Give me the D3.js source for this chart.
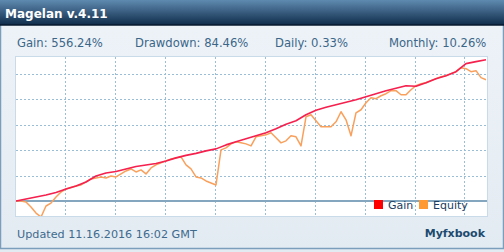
<!DOCTYPE html>
<html>
<head>
<meta charset="utf-8">
<script src="https://cdn.jsdelivr.net/npm/d3@7"></script>
<style>
  body { margin: 0; background: #ffffff; }
  svg { display: block; font-family: "DejaVu Sans", Verdana, sans-serif; }
</style>
</head>
<body>
<div id="chart"></div>
<script>
// title and stats
var titleText = "Magelan v.4.11";
var statLabels = ["Gain: 556.24%", "Drawdown: 84.46%", "Daily: 0.33%", "Monthly: 10.26%"];
var updatedText = "Updated 11.16.2016 16:02 GMT";
var brandText = "Myfxbook";
var legendNames = ["Gain", "Equity"];

// gain (%) sampled every 2 steps, equity (%) every step
var gainValues = [0, 7.9, 15.8, 23.7, 33.6, 47.4, 59.2, 75, 98.7, 110.5,
  116.5, 126.3, 136.2, 142.1, 148, 157.9, 169.8, 179.6, 187.5, 197.4,
  205.3, 221, 232.9, 244.8, 256.6, 268.5, 284.3, 302, 315.8, 339.5,
  357.3, 369.1, 379, 388.9, 398.7, 410.6, 422.4, 434.3, 444.1, 454,
  452, 465.9, 481.7, 493.5, 509.3, 540.9, 548.8, 556.2];

var equityValues = [0, 0, -3.9, -23.7, -47.4, -63.2, -19.7, -7.9, 15.8, 35.5,
  47.4, 53.3, 59.2, 63.2, 75, 86.9, 90.8, 94.8, 90.8, 98.7,
  94.8, 106.6, 118.4, 126.3, 114.5, 122.4, 106.6, 130.3, 142.1, 150,
  157.9, 165.8, 169.8, 173.7, 142.1, 126.3, 94.8, 90.8, 79, 71.1,
  63.2, 201.3, 209.2, 225, 232.9, 229, 225, 217.1, 252.7, 256.6,
  260.6, 268.5, 248.7, 229, 236.9, 256.6, 252.7, 217.1, 331.6, 339.5,
  315.8, 292.1, 292.1, 292.1, 311.9, 351.4, 319.8, 256.6, 347.4, 359.3,
  386.9, 406.6, 402.7, 414.5, 422.4, 434.3, 434.3, 418.5, 418.5, 438.2,
  454, 461.9, 465.9, 473.8, 481.7, 489.6, 493.5, 501.4, 509.3, 525.1,
  521.1, 509.3, 513.2, 485.6, 477.7];

var yGridValues = [100, 200, 300, 400, 500];
var xGridValues = [9.8, 19.8, 29.8, 39.8, 49.8, 59.8, 69.8, 79.8, 89.6];

function init() {
    var w = 504, h = 252;
    var plot = {left: 16, right: 487, top: 57, bottom: 216};

    var svg = d3.select("#chart").append("svg")
        .attr("width", w).attr("height", h);

    var defs = svg.append("defs");
    var tg = defs.append("linearGradient").attr("id", "titleGrad")
        .attr("x1", 0).attr("y1", 0).attr("x2", 0).attr("y2", 1);
    tg.append("stop").attr("offset", "0%").attr("stop-color", "#5f8ab0");
    tg.append("stop").attr("offset", "100%").attr("stop-color", "#0f2c4a");
    var bg = defs.append("linearGradient").attr("id", "bodyGrad")
        .attr("x1", 0).attr("y1", 0).attr("x2", 0).attr("y2", 1);
    bg.append("stop").attr("offset", "0%").attr("stop-color", "#eef3f8");
    bg.append("stop").attr("offset", "100%").attr("stop-color", "#e3ebf2");
    defs.append("clipPath").attr("id", "plotClip")
        .append("rect")
        .attr("x", plot.left).attr("y", plot.top)
        .attr("width", plot.right - plot.left).attr("height", plot.bottom - plot.top);

    // panel
    svg.append("rect").attr("x", 0).attr("y", 0).attr("width", w).attr("height", h)
        .attr("fill", "url(#bodyGrad)");
    svg.append("rect").attr("x", 0.5).attr("y", 0.5).attr("width", w - 1).attr("height", h - 4)
        .attr("fill", "none").attr("stroke", "#7b9ebd").attr("stroke-width", 1.5);

    // title bar
    svg.append("rect").attr("x", 0).attr("y", 0).attr("width", w).attr("height", 25)
        .attr("fill", "url(#titleGrad)");
    svg.append("line").attr("x1", 0).attr("x2", w).attr("y1", 25).attr("y2", 25)
        .attr("stroke", "#071a2e").attr("stroke-width", 1.5);
    svg.append("text").attr("x", 5).attr("y", 18)
        .attr("fill", "#ffffff").attr("font-weight", "bold").attr("font-size", "12px")
        .text(titleText);

    // stats row
    var statX = [17, 135, 275, 389];
    svg.selectAll("text.stat").data(statLabels).enter().append("text")
        .attr("class", "stat")
        .attr("x", function(d, i) { return statX[i]; })
        .attr("y", 47)
        .attr("fill", "#3b6688").attr("font-size", "11.6px")
        .text(function(d) { return d; });

    // plot area
    svg.append("rect")
        .attr("x", plot.left - 0.5).attr("y", plot.top - 0.5)
        .attr("width", plot.right - plot.left + 1).attr("height", plot.bottom - plot.top + 1)
        .attr("fill", "#ffffff").attr("stroke", "#c9dbe8");

    var xScale = d3.scaleLinear().domain([0, equityValues.length - 1]).range([16, 486]);
    var yScale = d3.scaleLinear().domain([-59, 567]).range([plot.bottom, plot.top]);

    // grid
    svg.selectAll("line.hgrid").data(yGridValues).enter().append("line")
        .attr("x1", plot.left).attr("x2", plot.right)
        .attr("y1", function(d) { return Math.round(yScale(d)) + 0.5; })
        .attr("y2", function(d) { return Math.round(yScale(d)) + 0.5; })
        .attr("stroke", "#99bed6").attr("stroke-dasharray", "2,2");
    svg.selectAll("line.vgrid").data(xGridValues).enter().append("line")
        .attr("y1", plot.top).attr("y2", plot.bottom)
        .attr("x1", function(d) { return Math.round(xScale(d)) + 0.5; })
        .attr("x2", function(d) { return Math.round(xScale(d)) + 0.5; })
        .attr("stroke", "#99bed6").attr("stroke-dasharray", "2,2");

    // zero line
    svg.append("line").attr("x1", plot.left).attr("x2", plot.right)
        .attr("y1", yScale(0)).attr("y2", yScale(0))
        .attr("stroke", "#84a7bf").attr("stroke-width", 2);

    var lines = svg.append("g").attr("clip-path", "url(#plotClip)");

    var equityLine = d3.line()
        .x(function(d, i) { return xScale(i); })
        .y(function(d) { return yScale(d); });
    var gainLine = d3.line()
        .x(function(d, i) { return xScale(i * 2); })
        .y(function(d) { return yScale(d); });

    lines.append("path").datum(equityValues)
        .attr("d", equityLine)
        .attr("fill", "none").attr("stroke", "#f9a05c").attr("stroke-width", 1.5)
        .attr("stroke-linejoin", "round");
    lines.append("path").datum(gainValues)
        .attr("d", gainLine)
        .attr("fill", "none").attr("stroke", "#f5204d").attr("stroke-width", 1.6)
        .attr("stroke-linejoin", "round");

    // legend
    var legendX = [374, 419];
    var legendColors = ["#ff0000", "#ff9a33"];
    var lg = svg.selectAll("g.legend").data(legendNames).enter().append("g")
        .attr("class", "legend")
        .attr("transform", function(d, i) { return "translate(" + legendX[i] + ",200)"; });
    lg.append("rect").attr("width", 9).attr("height", 9)
        .attr("fill", function(d, i) { return legendColors[i]; });
    lg.append("text").attr("x", 14).attr("y", 8.5)
        .attr("fill", "#1c3d60").attr("font-size", "11px")
        .text(function(d) { return d; });

    // footer
    svg.append("text").attr("x", 17).attr("y", 238)
        .attr("fill", "#3e6a8e").attr("font-size", "11.2px")
        .text(updatedText);
    svg.append("text").attr("x", 485).attr("y", 237)
        .attr("text-anchor", "end")
        .attr("fill", "#1d4a6e").attr("font-weight", "bold").attr("font-size", "11px")
        .text(brandText);
}
window.onload = init;
</script>
</body>
</html>
